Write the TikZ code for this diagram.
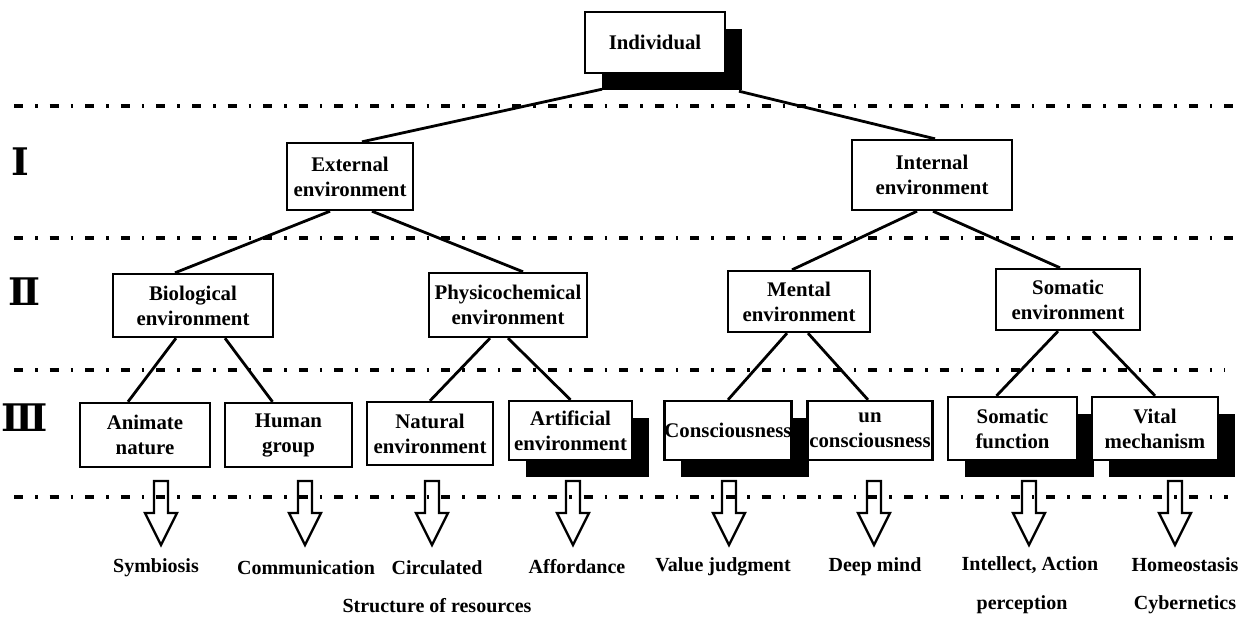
\documentclass[tikz,border=0pt]{standalone}
\usepackage{fontspec}
\setmainfont{Liberation Serif}
\newfontfamily\romfont{DejaVu Serif}
\usetikzlibrary{shadows,backgrounds}

\tikzset{
  box/.style={draw, line width=1.2pt, fill=white, align=center, font=\bfseries\fontsize{10.4}{12.5}\selectfont, inner sep=1pt},
  shadowbox/.style={box, drop shadow={shadow xshift=8.5pt, shadow yshift=-8.5pt, fill=black, opacity=1}},
  link/.style={line width=1.4pt},
  level/.style={line width=1.6pt, dash pattern=on 4.5pt off 6pt on 1.3pt off 6pt},
  outcome/.style={font=\bfseries, inner sep=0pt},
  roman/.style={font=\romfont\bfseries\fontsize{19}{19}\selectfont, inner sep=0pt},
  blockarrow/.style={line width=1.2pt, line join=miter}
}

\begin{document}
\begin{tikzpicture}[line cap=butt, x=0.5pt, y=-0.5pt]

	% Ventana del dibujo
	\useasboundingbox (0,0) rectangle (1248,617);

	% Niveles
	\node[roman] (lvI)   at (20,162) {Ⅰ};
	\node[roman] (lvII)  at (25,292) {Ⅱ};
	\node[roman] (lvIII) at (25,418) {Ⅲ};

	% Raiz
	\node[shadowbox, minimum width=70pt, minimum height=30.5pt] (ind) at (655,42.5) {Individual};

	% Nivel I
	\node[box, minimum width=63pt, minimum height=33.5pt] (ext) at (350,176.5) {External\\environment};
	\node[box, minimum width=80pt, minimum height=35pt] (int) at (932,175) {Internal\\environment};

	% Nivel II
	\node[box, minimum width=80pt, minimum height=31.5pt] (bio) at (193,305.5) {Biological\\environment};
	\node[box, minimum width=79pt, minimum height=32pt] (phy) at (508,305) {Physicochemical\\environment};
	\node[box, minimum width=71pt, minimum height=30.5pt] (men) at (799,301.5) {Mental\\environment};
	\node[box, minimum width=72pt, minimum height=30.5pt] (som) at (1068,299.5) {Somatic\\environment};

	% Nivel III
	\node[box, minimum width=65pt, minimum height=32pt] (ani) at (145,435) {Animate\\nature};
	\node[box, minimum width=63.5pt, minimum height=32pt] (hum) at (288.5,435) {Human\\group};
	\node[box, minimum width=63pt, minimum height=31.5pt] (nat) at (430,433.5) {Natural\\environment};
	\node[shadowbox, minimum width=61.5pt, minimum height=29.5pt] (art) at (570.5,430.5) {Artificial\\environment};
	\node[shadowbox, minimum width=63pt, minimum height=29.5pt, inner sep=0pt] (con) at (728,430.5) {Consciousness};
	\node[box, minimum width=62pt, minimum height=29.5pt] (unc) at (870,430.5) {un\\consciousness};
	\node[shadowbox, minimum width=64.5pt, minimum height=31.5pt] (sfn) at (1012.5,428.5) {Somatic\\function};
	\node[shadowbox, minimum width=63pt, minimum height=31.5pt] (vit) at (1155,428.5) {Vital\\mechanism};

	% Resultados
	\node[outcome] (sym) at (156,568) {Symbiosis};
	\node[outcome] (com) at (306,568) {Communication};
	\node[outcome] (cir) at (437,568) {Circulated};
	\node[outcome] (res) at (437,606) {Structure of resources};
	\node[outcome] (aff) at (577,567) {Affordance};
	\node[outcome] (val) at (723,567) {Value judgment};
	\node[outcome] (dee) at (875,567) {Deep mind};
	\node[outcome] (itl) at (1030,565) {Intellect, Action};
	\node[outcome] (per) at (1022,605) {perception};
	\node[outcome] (hom) at (1185,565) {Homeostasis};
	\node[outcome] (cyb) at (1185,605) {Cybernetics};

	\begin{pgfonlayer}{background}
		% Separadores de nivel (raya-punto)
		\draw[level] (14,106) -- (1245,106);
		\draw[level] (14,238) -- (1235,238);
		\draw[level] (14,370) -- (1225,370);
		\draw[level] (14,497) -- (1228,497);

		% Ramas del arbol
		\draw[link] ([xshift=-26.5pt,yshift=-7.5pt]ind.south) -- ([xshift=6pt]ext.north);
		\draw[link] ([xshift=42pt,yshift=-8.5pt]ind.south) -- ([xshift=1.5pt]int.north);
		\draw[link] ([xshift=-10pt]ext.south) -- ([xshift=-9pt]bio.north);
		\draw[link] ([xshift=11pt]ext.south) -- ([xshift=7.5pt]phy.north);
		\draw[link] ([xshift=-7.5pt]int.south) -- ([xshift=-3.5pt]men.north);
		\draw[link] ([xshift=0.5pt]int.south) -- ([xshift=-4pt]som.north);
		\draw[link] ([xshift=-8.5pt]bio.south) -- ([xshift=-8.5pt]ani.north);
		\draw[link] ([xshift=16pt]bio.south) -- ([xshift=-8pt]hum.north);
		\draw[link] ([xshift=-9pt]phy.south) -- (nat.north);
		\draw[link] (phy.south) -- (art.north);
		\draw[link] ([xshift=-6pt]men.south) -- (con.north);
		\draw[link] ([xshift=4.5pt]men.south) -- ([xshift=-1pt]unc.north);
		\draw[link] ([xshift=-5pt]som.south) -- ([xshift=-8pt]sfn.north);
		\draw[link] ([xshift=12.5pt]som.south) -- (vit.north);
	\end{pgfonlayer}

	% Flechas huecas hacia los resultados
	\foreach \ax in {161,305,432,573,729,874,1029,1175}
	\draw[blockarrow] ({\ax-7},481) -- ({\ax-7},513) -- ({\ax-16},513) -- (\ax,545)
		-- ({\ax+16},513) -- ({\ax+7},513) -- ({\ax+7},481) -- cycle;

\end{tikzpicture}
\end{document}
